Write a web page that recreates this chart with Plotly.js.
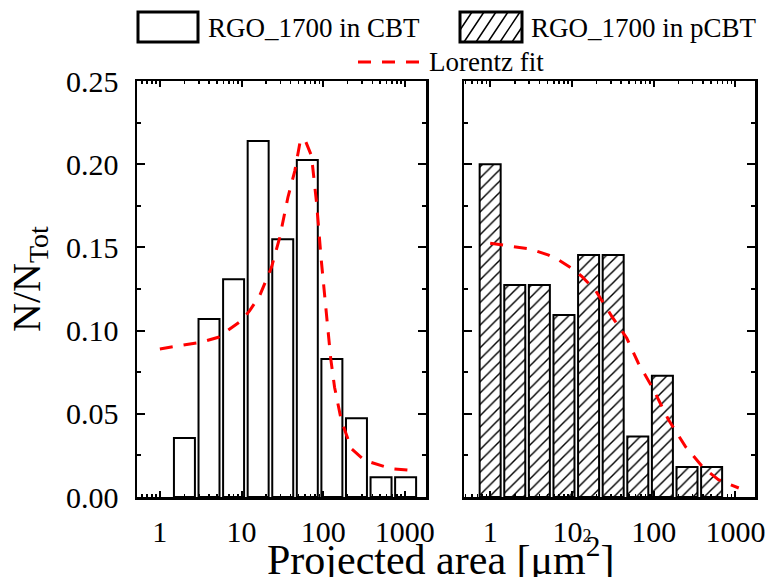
<!DOCTYPE html>
<html>
<head>
<meta charset="utf-8">
<script src="https://cdn.plot.ly/plotly-3.0.1.min.js"></script>
<style>html,body{margin:0;padding:0;background:#fff;}#chart{width:775px;height:577px;}</style>
</head>
<body>
<div id="chart"></div>
<script>
// ---- data (areas in µm², fractions N/N_Tot) ----
const binsCBT  = [2, 4, 8, 16, 32, 64, 128, 256, 512, 1024];
const fracCBT  = [0.0354, 0.107, 0.1308, 0.214, 0.1549, 0.2025, 0.083, 0.0474, 0.0118, 0.0118];
const binsPCBT = [1, 2, 4, 8, 16, 32, 64, 128, 256, 512];
const fracPCBT = [0.200, 0.1274, 0.1274, 0.1094, 0.1454, 0.1454, 0.0364, 0.0728, 0.018, 0.018];
const fitCBTx  = [1, 3.2, 5.2, 10, 12.6, 16.7, 23.3, 29.4, 37, 45, 52, 59, 72, 83, 95, 110, 124, 138, 167, 222, 323, 686, 1180];
const fitCBTy  = [0.089, 0.093, 0.096, 0.106, 0.112, 0.121, 0.138, 0.156, 0.180, 0.196, 0.213, 0.2155, 0.205, 0.177, 0.142, 0.111, 0.083, 0.066, 0.046, 0.029, 0.022, 0.017, 0.016];
const fitPCBTx = [1, 2.2, 3.1, 5.2, 6.9, 10, 13.3, 19.3, 30.9, 47, 65, 100, 152, 244, 408, 620, 1100];
const fitPCBTy = [0.1525, 0.150, 0.149, 0.1454, 0.1424, 0.1374, 0.1324, 0.1244, 0.1084, 0.0954, 0.0804, 0.0644, 0.0464, 0.0304, 0.0174, 0.0104, 0.0054];
const xTickVals = [1, 10, 100, 1000];
const xTickTextL = ['1', '10', '100', '1000'];
const xTickTextR = ['1', '10<span style="font-size:18px">2</span>', '100', '1000'];
const legendNames = ['RGO_1700 in CBT', 'RGO_1700 in pCBT', 'Lorentz fit'];
const yTitle = 'N/N<sub>Tot</sub>';
const xTitle = 'Projected area [μm<sup>2</sup>]';

// ---- helpers ----
const W = 775, H = 577;
const L10 = v => v.map(Math.log10);
const px = x => x / W;
const py = y => 1 - y / H;
const FONT = 'Liberation Serif';
const minorVals = [];
for (let d = -1; d <= 3; d++) for (let m = 2; m <= 9; m++) minorVals.push(Math.log10(m * Math.pow(10, d)));

const barW = 0.257;
const fitLine = {color: '#ff0000', width: 3, dash: '13px,11px'};

const traces = [
  {type: 'bar', x: L10(binsCBT), y: fracCBT, width: barW, xaxis: 'x', yaxis: 'y',
   marker: {color: 'white', line: {color: 'black', width: 2}}, name: legendNames[0], showlegend: false},
  {type: 'scatter', mode: 'lines', x: L10(fitCBTx), y: fitCBTy, xaxis: 'x', yaxis: 'y',
   line: fitLine, name: legendNames[2], showlegend: false},
  {type: 'bar', x: L10(binsPCBT), y: fracPCBT, width: barW, xaxis: 'x2', yaxis: 'y2',
   marker: {color: 'white', line: {color: 'black', width: 2},
            pattern: {shape: '/', fgcolor: 'black', bgcolor: 'white', size: 8, solidity: 0.18}},
   name: legendNames[1], showlegend: false},
  {type: 'scatter', mode: 'lines', x: L10(fitPCBTx), y: fitPCBTy, xaxis: 'x2', yaxis: 'y2',
   line: fitLine, name: legendNames[2], showlegend: false}
];

const xBase = {
  showline: true, linecolor: 'black', linewidth: 2.5, mirror: 'ticks',
  ticks: 'inside', ticklen: 6, tickwidth: 2, tickcolor: 'black',
  tickmode: 'array', tickvals: L10(xTickVals),
  tickfont: {family: FONT, size: 30, color: 'black'},
  ticklabelstandoff: 6,
  minor: {tickmode: 'array', tickvals: minorVals, ticks: 'inside', ticklen: 3, tickwidth: 1.5, tickcolor: 'black'},
  showgrid: false, zeroline: false, fixedrange: true
};
const yBase = {
  range: [0, 0.25], showline: true, linecolor: 'black', linewidth: 2.5, mirror: 'ticks',
  ticks: 'inside', ticklen: 8, tickwidth: 2, tickcolor: 'black',
  tick0: 0, dtick: 0.05, tickformat: '.2f',
  tickfont: {family: FONT, size: 30, color: 'black'},
  ticklabelstandoff: 10,
  minor: {dtick: 0.025, ticks: 'inside', ticklen: 4, tickwidth: 2, tickcolor: 'black'},
  showgrid: false, zeroline: false, fixedrange: true,
  domain: [py(497), py(81)]
};

// legend drawing (paper coords)
const shapes = [];
const box = (x0, x1, y0, y1) => ({type: 'rect', xref: 'paper', yref: 'paper',
  x0: px(x0), x1: px(x1), y0: py(y1), y1: py(y0), line: {color: 'black', width: 3}, fillcolor: 'white', layer: 'above'});
shapes.push(box(138, 198, 12, 42));
// hatch for second box
const hx0 = 460, hx1 = 522, hy0 = 12, hy1 = 42, slope = 1.5, step = 12;
let path = '';
for (let c = hx0 - (hy1 - hy0) / slope; c < hx1; c += step) {
  const hLo = Math.max(0, (hx0 - c) * slope), hHi = Math.min(hy1 - hy0, (hx1 - c) * slope);
  if (hHi <= hLo) continue;
  const xa = c + hLo / slope, ya = hy1 - hLo, xb = c + hHi / slope, yb = hy1 - hHi;
  path += `M${px(xa)},${py(ya)}L${px(xb)},${py(yb)}`;
}
shapes.push(box(460, 522, 12, 42));
shapes.push({type: 'path', xref: 'paper', yref: 'paper', path: path, line: {color: 'black', width: 1.5}, layer: 'above'});
shapes.push({type: 'line', xref: 'paper', yref: 'paper', x0: px(358), x1: px(422), y0: py(62), y1: py(62),
  line: {color: '#ff0000', width: 3, dash: '13px,11px'}, layer: 'above'});

const annFont = {family: FONT, size: 27, color: 'black'};
const annotations = [
  {xref: 'paper', yref: 'paper', x: px(206), y: py(28), xanchor: 'left', yanchor: 'middle', text: legendNames[0], showarrow: false, font: annFont},
  {xref: 'paper', yref: 'paper', x: px(529), y: py(28), xanchor: 'left', yanchor: 'middle', text: legendNames[1], showarrow: false, font: annFont},
  {xref: 'paper', yref: 'paper', x: px(427), y: py(62), xanchor: 'left', yanchor: 'middle', text: legendNames[2], showarrow: false, font: annFont},
  {xref: 'paper', yref: 'paper', x: px(29), y: py(279), xanchor: 'center', yanchor: 'middle', textangle: -90, text: yTitle, showarrow: false, font: {family: FONT, size: 40, color: 'black'}},
  {xref: 'paper', yref: 'paper', x: px(440), y: py(556), xanchor: 'center', yanchor: 'middle', text: xTitle, showarrow: false, font: {family: FONT, size: 42, color: 'black'}}
];

const layout = {
  width: W, height: H, margin: {l: 0, r: 0, t: 0, b: 0},
  paper_bgcolor: 'white', plot_bgcolor: 'white', showlegend: false,
  font: {family: FONT},
  bargap: 0,
  xaxis: Object.assign({}, xBase, {domain: [px(137), px(426)], range: [-0.28, 3.26], anchor: 'y', ticktext: xTickTextL}),
  xaxis2: Object.assign({}, xBase, {domain: [px(464), px(755)], range: [-0.32, 3.24], anchor: 'y2', ticktext: xTickTextR}),
  yaxis: Object.assign({}, yBase, {anchor: 'x'}),
  yaxis2: Object.assign({}, yBase, {anchor: 'x2', showticklabels: false}),
  shapes: shapes, annotations: annotations
};

Plotly.newPlot('chart', traces, layout, {staticPlot: true, displayModeBar: false});
</script>
</body>
</html>
